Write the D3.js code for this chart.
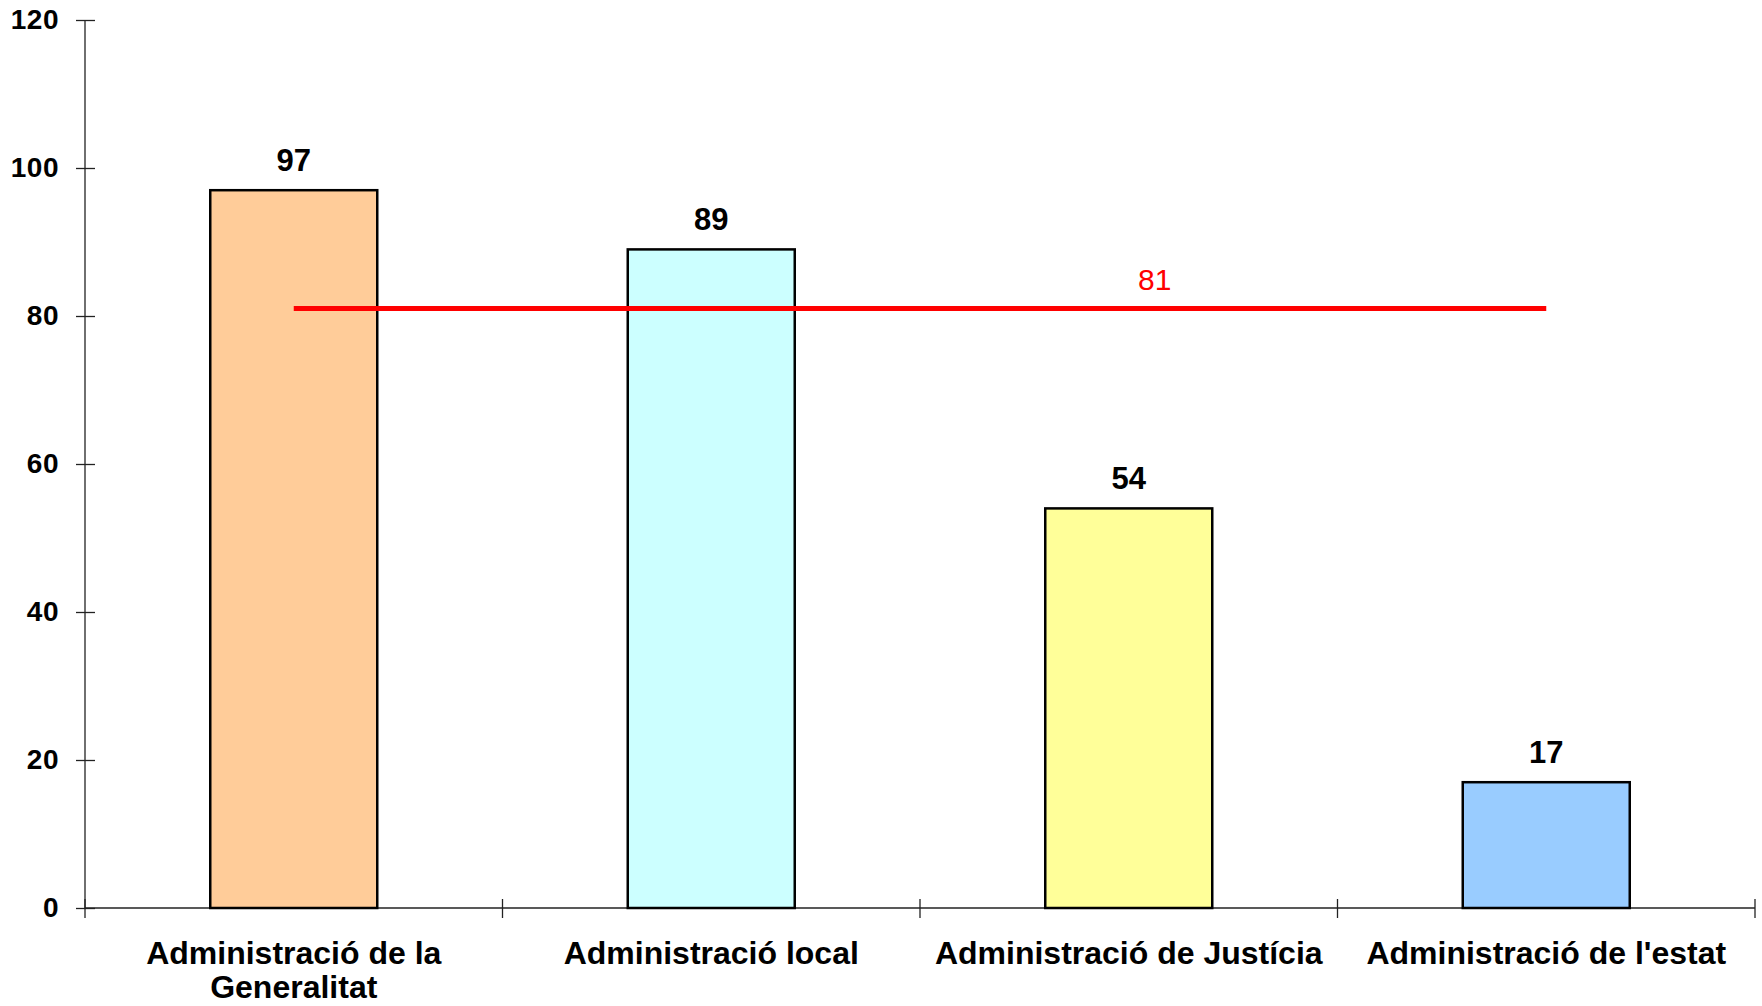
<!DOCTYPE html>
<meta charset="utf-8">
<style>
body { margin: 0; background: #fff; }
svg { display: block; font-family: "Liberation Sans", Arial, sans-serif; }
.axis path, .axis line { stroke: #222; stroke-width: 1.3; }
.axis--y text { font-size: 28px; font-weight: bold; fill: #000; letter-spacing: 0.5px; }
.bar { stroke: #000; stroke-width: 2.5; }
.value { font-size: 31px; font-weight: bold; text-anchor: middle; }
.xlabel { font-size: 32px; font-weight: bold; fill: #000; stroke: none; }
</style>
<svg width="1762" height="1006"></svg>
<script src="https://d3js.org/d3.v7.min.js"></script>
<script>

var categories = ["Administració de la Generalitat", "Administració local", "Administració de Justícia", "Administració de l'estat"];
var values = [97, 89, 54, 17];
var barColors = ["#FFCC99", "#CCFFFF", "#FFFF99", "#99CCFF"];
var average = [81, 81, 81, 81];
var yTicks = [0, 20, 40, 60, 80, 100, 120];

var svg = d3.select("svg");

var x = d3.scaleBand().domain(categories).range([85, 1755]).padding(0),
    y = d3.scaleLinear().domain([0, 120]).range([908, 20]);

var bw = x.bandwidth() * 0.4;

// y axis, ticks cross the line
var yAxis = svg.append("g")
    .attr("class", "axis axis--y")
    .attr("transform", "translate(85,0)")
    .call(d3.axisLeft(y).tickValues(yTicks).tickSize(9).tickPadding(17));
yAxis.selectAll(".tick line").attr("x2", 10).attr("x1", -9);
yAxis.select(".domain").attr("d", "M0," + y(120) + "V" + y(0));

// x axis with ticks between categories
var xAxis = svg.append("g")
    .attr("class", "axis axis--x")
    .attr("transform", "translate(0," + y(0) + ")");
xAxis.append("line").attr("x1", 85).attr("x2", 1755).attr("y1", 0).attr("y2", 0);
var bounds = categories.map(function(c) { return x(c); }).concat([x.range()[1]]);
xAxis.selectAll(".xtick")
  .data(bounds)
  .enter().append("line")
    .attr("x1", function(d) { return d; })
    .attr("x2", function(d) { return d; })
    .attr("y1", -9)
    .attr("y2", 10);

var labels = xAxis.selectAll(".xlabel")
  .data(categories)
  .enter().append("text")
    .attr("class", "xlabel")
    .attr("x", function(d) { return x(d) + x.bandwidth() / 2; })
    .attr("y", 56)
    .attr("text-anchor", "middle");

labels.each(function(d) {
  var t = d3.select(this), words = d.split(" "), line = [],
      tspan = t.append("tspan").attr("x", t.attr("x")).attr("dy", 0);
  words.forEach(function(w) {
    line.push(w);
    tspan.text(line.join(" "));
    if (tspan.node().getComputedTextLength() > x.bandwidth() - 15 && line.length > 1) {
      line.pop();
      tspan.text(line.join(" "));
      line = [w];
      tspan = t.append("tspan").attr("x", t.attr("x")).attr("dy", 34).text(w);
    }
  });
});

// bars
svg.selectAll(".bar")
  .data(values)
  .enter().append("rect")
    .attr("class", "bar")
    .attr("x", function(d, i) { return x(categories[i]) + (x.bandwidth() - bw) / 2; })
    .attr("y", function(d) { return y(d); })
    .attr("width", bw)
    .attr("height", function(d) { return y(0) - y(d); })
    .attr("fill", function(d, i) { return barColors[i]; });

svg.selectAll(".value")
  .data(values)
  .enter().append("text")
    .attr("class", "value")
    .attr("x", function(d, i) { return x(categories[i]) + x.bandwidth() / 2; })
    .attr("y", function(d) { return y(d) - 19; })
    .text(function(d) { return d; });

// average line
var line = d3.line()
    .x(function(d, i) { return x(categories[i]) + x.bandwidth() / 2; })
    .y(function(d) { return y(d); });

svg.append("path")
    .datum(average)
    .attr("fill", "none")
    .attr("stroke", "#FF0000")
    .attr("stroke-width", 5)
    .attr("d", line);

svg.append("text")
    .attr("x", x(categories[2]) + x.bandwidth() / 2 + 26)
    .attr("y", y(average[2]) - 19)
    .attr("text-anchor", "middle")
    .attr("fill", "#FF0000")
    .style("font-size", "30px")
    .text(average[2]);

</script>
